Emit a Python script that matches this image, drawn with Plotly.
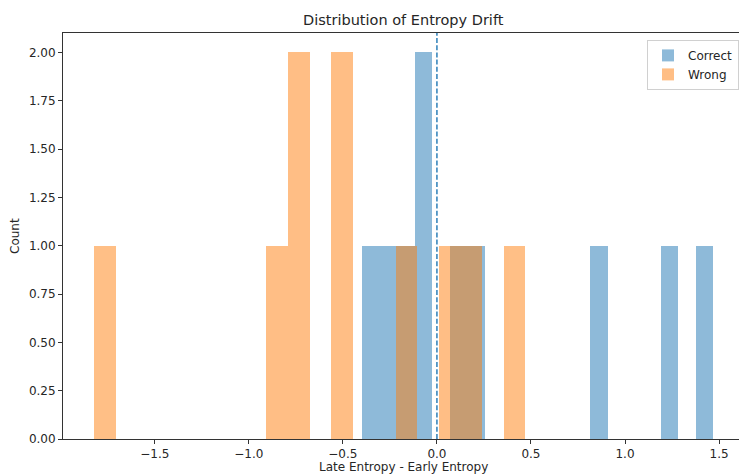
import numpy as np
import plotly.graph_objects as go

# Raw entropy drift samples (Late Entropy - Early Entropy)
correct_drift = [-0.397, -0.26, -0.16, -0.09, -0.05, 0.11, 0.21, 0.86, 1.23, 1.469]
wrong_drift = [-1.823, -0.85, -0.74, -0.72, -0.52, -0.49, -0.16, 0.05, 0.18, 0.469]
series_names = ["Correct", "Wrong"]
series_colors = ["#1f77b4", "#ff7f0e"]
n_bins = 20
x_ticks = [-1.5, -1.0, -0.5, 0.0, 0.5, 1.0, 1.5]
y_ticks = [0.0, 0.25, 0.5, 0.75, 1.0, 1.25, 1.5, 1.75, 2.0]

FONT = "DejaVu Sans"
TXT = "#262626"

fig = go.Figure()
for name, vals, col in zip(series_names, [correct_drift, wrong_drift], series_colors):
    counts, edges = np.histogram(vals, bins=n_bins)
    centers = (edges[:-1] + edges[1:]) / 2
    width = edges[1] - edges[0]
    fig.add_trace(go.Bar(
        x=centers, y=counts, width=width, name=name,
        marker=dict(color=col, line=dict(width=0)), opacity=0.5,
    ))

fig.add_shape(type="line", xref="x", yref="paper", x0=0, x1=0, y0=0, y1=1,
              line=dict(color="#1f77b4", width=1.4, dash="5px,2.2px"))

fig.update_layout(
    width=739, height=475,
    margin=dict(l=63, r=0, t=33, b=36, autoexpand=False),
    paper_bgcolor="white", plot_bgcolor="white",
    barmode="overlay", bargap=0,
    font=dict(family=FONT, size=12, color=TXT),
    showlegend=True,
    legend=dict(x=1, y=0.983, xanchor="right", yanchor="top",
                bgcolor="rgba(255,255,255,0.8)", bordercolor="#d0d0d0", borderwidth=1,
                font=dict(family=FONT, size=12, color=TXT),
                itemwidth=30, tracegroupgap=0),
    xaxis=dict(range=[-1.988, 1.606], tickvals=x_ticks,
               ticktext=[f"{v:.1f}".replace("-", "\u2212") for v in x_ticks],
               showgrid=False, zeroline=False,
               showline=True, linecolor="#333", linewidth=1, mirror=True,
               ticks="outside", ticklen=4, tickcolor="#333", tickwidth=1,
               tickfont=dict(family=FONT, size=12, color=TXT)),
    yaxis=dict(range=[0, 2.1], tickvals=y_ticks,
               ticktext=[f"{v:.2f}" for v in y_ticks],
               showgrid=False, zeroline=False,
               showline=True, linecolor="#333", linewidth=1, mirror=False,
               ticks="outside", ticklen=4, tickcolor="#333", tickwidth=1,
               tickfont=dict(family=FONT, size=12, color=TXT)),
    annotations=[
        dict(text="Distribution of Entropy Drift", xref="paper", yref="paper",
             x=(403 - 63) / 676, y=1 + (33 - 20) / 406, xanchor="center", yanchor="middle",
             showarrow=False, font=dict(family=FONT, size=14.5, color=TXT)),
        dict(text="Late Entropy - Early Entropy", xref="paper", yref="paper",
             x=(403 - 63) / 676, y=-(467 - 439) / 406, xanchor="center", yanchor="middle",
             showarrow=False, font=dict(family=FONT, size=12, color=TXT)),
        dict(text="Count", xref="paper", yref="paper",
             x=-(63 - 15) / 676, y=0.5, xanchor="center", yanchor="middle", textangle=-90,
             showarrow=False, font=dict(family=FONT, size=12, color=TXT)),
    ],
)

fig.write_html("out.html")
